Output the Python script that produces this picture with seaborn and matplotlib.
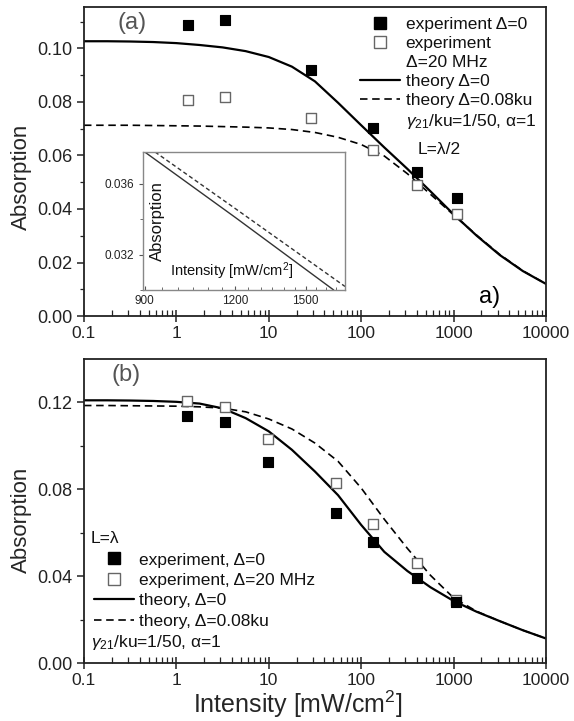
import numpy as np
import pandas as pd
import matplotlib
matplotlib.use("Agg")
import matplotlib.pyplot as plt
import seaborn as sns
from matplotlib.lines import Line2D
from matplotlib.ticker import FixedLocator, NullFormatter

# ---------------- data ----------------
# Panel (a) experiment
a_exp_I = [1.33, 3.36, 28.6, 134, 400, 1090]
a_exp0 = [0.1088, 0.1107, 0.0920, 0.0703, 0.0538, 0.0441]
a_exp20 = [0.0807, 0.0819, 0.0740, 0.0621, 0.0490, 0.0381]

# theory curves, read at quarter-decade intensities
theory_I = [0.1, 0.178, 0.316, 0.562, 1, 1.78, 3.16, 5.62, 10, 17.8, 31.6,
            56.2, 100, 178, 316, 562, 1000, 1780, 3160, 5620, 10000]
a_th0 = [0.1027, 0.1027, 0.1026, 0.1024, 0.1020, 0.1013, 0.1004, 0.0990,
         0.0968, 0.0932, 0.0877, 0.0797, 0.0713, 0.0630, 0.0550, 0.0466,
         0.0380, 0.0300, 0.0228, 0.0168, 0.0120]
a_th08 = [0.0713, 0.0713, 0.0713, 0.0712, 0.0711, 0.0710, 0.0708, 0.0706,
          0.0703, 0.0697, 0.0686, 0.0668, 0.0641, 0.0598, 0.0532, 0.0455,
          0.0378, 0.0302, 0.0230, 0.0169, 0.0120]

# Inset of panel (a)
in_I0 = [900, 1200, 1640]
in_th0 = [0.0378, 0.0341, 0.0300]
in_I08 = [930, 1200, 1700]
in_th08 = [0.0378, 0.0346, 0.0302]

# Panel (b) experiment
b_exp_I = [1.3, 3.4, 9.8, 53.5, 134, 400, 1060]
b_exp0 = [0.1136, 0.1108, 0.0924, 0.0690, 0.0556, 0.0391, 0.0280]
b_exp20 = [0.1209, 0.1177, 0.1030, 0.0828, 0.0639, 0.0460, 0.0290]
b_th0 = [0.1210, 0.1210, 0.1209, 0.1207, 0.1203, 0.1195, 0.1173, 0.1128,
         0.1067, 0.0982, 0.0882, 0.0773, 0.0636, 0.0512, 0.0424, 0.0349,
         0.0286, 0.0236, 0.0193, 0.0151, 0.0113]
b_th08 = [0.1186, 0.1186, 0.1185, 0.1184, 0.1183, 0.1180, 0.1174, 0.1157,
          0.1124, 0.1078, 0.1013, 0.0929, 0.0806, 0.0662, 0.0528, 0.0404,
          0.0300, 0.0238, 0.0193, 0.0151, 0.0113]

x_ticks = [0.1, 1, 10, 100, 1000, 10000]
x_ticklabels = ["0.1", "1", "10", "100", "1000", "10000"]

# ---------------- style ----------------
sns.set_theme(style="ticks")
plt.rcParams["font.family"] = ["Liberation Sans", "DejaVu Sans"]
plt.rcParams["mathtext.fontset"] = "custom"
plt.rcParams["mathtext.rm"] = "Liberation Sans"
plt.rcParams["mathtext.it"] = "Liberation Sans:italic"
plt.rcParams["axes.linewidth"] = 1.3
plt.rcParams["axes.edgecolor"] = "#222222"

DASH = (0, (4.5, 2.8))
OPEN_EC = "#666666"
LEG_FS = 12.5

fig = plt.figure(figsize=(5.74, 7.21), dpi=100)
axA = fig.add_axes([0.1463, 0.5617, 0.8049, 0.4286])
axB = fig.add_axes([0.1463, 0.0804, 0.8049, 0.4216])


def style_main(ax):
    ax.set_xscale("log")
    ax.set_xlim(0.1, 10000)
    ax.xaxis.set_major_locator(FixedLocator(x_ticks))
    ax.set_xticklabels(x_ticklabels)
    minors = [m * 10.0 ** e for e in range(-1, 4) for m in range(2, 10)]
    ax.xaxis.set_minor_locator(FixedLocator(minors))
    ax.xaxis.set_minor_formatter(NullFormatter())
    ax.tick_params(axis="x", which="major", direction="inout", length=8,
                   width=1.1, labelsize=12.5, pad=3, colors="#222222")
    ax.tick_params(axis="x", which="minor", direction="in", length=4,
                   width=0.9, colors="#222222")
    ax.tick_params(axis="y", which="major", direction="out", length=5,
                   width=1.1, labelsize=13, colors="#222222")
    ax.tick_params(axis="y", which="minor", direction="out", length=3,
                   width=0.9, colors="#222222")
    for s in ax.spines.values():
        s.set_visible(True)
        s.set_linewidth(1.3)


def draw(ax, exp_I, e0, e20, th0, th08):
    sns.lineplot(x=theory_I, y=th0, ax=ax, color="black", lw=1.6,
                 sort=False, estimator=None)
    sns.lineplot(x=theory_I, y=th08, ax=ax, color="black", lw=1.2,
                 linestyle=DASH, sort=False, estimator=None)
    sns.scatterplot(x=exp_I, y=e20, ax=ax, marker="s", s=55,
                    facecolor="white", edgecolor=OPEN_EC, linewidth=1.0,
                    zorder=5)
    sns.scatterplot(x=exp_I, y=e0, ax=ax, marker="s", s=55,
                    color="black", edgecolor="black", linewidth=0.8,
                    zorder=6)


# ---------------- panel (a) ----------------
draw(axA, a_exp_I, a_exp0, a_exp20, a_th0, a_th08)
style_main(axA)
axA.set_ylim(0, 0.1155)
axA.set_yticks([0, 0.02, 0.04, 0.06, 0.08, 0.10])
axA.set_yticklabels(["0.00", "0.02", "0.04", "0.06", "0.08", "0.10"])
axA.yaxis.set_minor_locator(FixedLocator([0.01, 0.03, 0.05, 0.07, 0.09, 0.11]))
axA.set_ylabel("Absorption", fontsize=16)
axA.yaxis.set_label_coords(-0.112, 0.45)
axA.set_xlabel("")
axA.text(0.072, 0.985, "(a)", transform=axA.transAxes, fontsize=17,
         color="#555555", va="top", ha="left")
axA.text(0.855, 0.025, "a)", transform=axA.transAxes, fontsize=17,
         color="black", va="bottom", ha="left")

ms = 8
hA = [
    Line2D([], [], ls="none", marker="s", ms=ms, mfc="black", mec="black"),
    Line2D([], [], ls="none", marker="s", ms=ms, mfc="white", mec=OPEN_EC),
    Line2D([], [], ls="none", marker="none"),
    Line2D([], [], color="black", lw=1.6),
    Line2D([], [], color="black", lw=1.2, ls=DASH),
    Line2D([], [], ls="none", marker="none"),
]
lA = ["experiment \u0394=0", "experiment", "\u0394=20 MHz",
      "theory \u0394=0", "theory \u0394=0.08ku",
      "$\\gamma_{21}$/ku=1/50, \u03b1=1"]
legA = axA.legend(hA, lA, loc="upper right", bbox_to_anchor=(1.005, 1.007),
                  frameon=False, fontsize=LEG_FS, handlelength=2.3,
                  handletextpad=0.3, labelspacing=0.22, borderaxespad=0.3)
for t in legA.get_texts():
    t.set_color("#111111")
axA.text(0.722, 0.54, "L=\u03bb/2", transform=axA.transAxes, fontsize=LEG_FS,
         color="#111111", va="center", ha="left")

# inset
axI = fig.add_axes([0.2491, 0.5978, 0.3519, 0.1914])
sns.lineplot(x=in_I0, y=in_th0, ax=axI, color="#333333", lw=1.0,
             sort=False, estimator=None)
sns.lineplot(x=in_I08, y=in_th08, ax=axI, color="#333333", lw=1.0,
             linestyle=(0, (3, 2)), sort=False, estimator=None)
axI.set_xscale("log")
axI.set_xlim(895, 1700)
axI.set_ylim(0.0300, 0.0378)
axI.xaxis.set_major_locator(FixedLocator([900, 1200, 1500]))
axI.set_xticklabels(["900", "1200", "1500"])
axI.xaxis.set_minor_locator(FixedLocator(list(range(950, 1700, 50))))
axI.xaxis.set_minor_formatter(NullFormatter())
axI.yaxis.set_major_locator(FixedLocator([0.032, 0.036]))
axI.set_yticklabels(["0.032", "0.036"])
axI.yaxis.set_minor_locator(FixedLocator([0.030, 0.034]))
axI.tick_params(axis="both", which="major", labelsize=8.5, length=3,
                width=0.8, colors="#555555", labelcolor="#222222")
axI.tick_params(axis="x", which="both", direction="in")
axI.tick_params(axis="x", which="minor", length=2, width=0.6, colors="#555555")
axI.tick_params(axis="y", which="minor", length=2, width=0.6, colors="#555555")
for s in axI.spines.values():
    s.set_visible(True)
    s.set_color("#888888")
    s.set_linewidth(1.0)
axI.set_xlabel("")
axI.set_ylabel("")
axI.text(0.035, 0.5, "Absorption", transform=axI.transAxes, rotation=90,
         fontsize=12, va="center", ha="left", color="#111111")
axI.text(0.134, 0.06, "Intensity [mW/cm$^{2}$]", transform=axI.transAxes,
         fontsize=10.5, va="bottom", ha="left", color="#111111")

# ---------------- panel (b) ----------------
draw(axB, b_exp_I, b_exp0, b_exp20, b_th0, b_th08)
style_main(axB)
axB.set_ylim(0, 0.14)
axB.set_yticks([0, 0.04, 0.08, 0.12])
axB.set_yticklabels(["0.00", "0.04", "0.08", "0.12"])
axB.yaxis.set_minor_locator(FixedLocator([0.02, 0.06, 0.10]))
axB.set_ylabel("Absorption", fontsize=16)
axB.yaxis.set_label_coords(-0.112, 0.47)
axB.set_xlabel("Intensity [mW/cm$^{2}$]", fontsize=18)
axB.xaxis.set_label_coords(0.462, -0.085)
axB.text(0.06, 0.985, "(b)", transform=axB.transAxes, fontsize=17,
         color="#555555", va="top", ha="left")

hB = [
    Line2D([], [], ls="none", marker="s", ms=ms, mfc="black", mec="black"),
    Line2D([], [], ls="none", marker="s", ms=ms, mfc="white", mec=OPEN_EC),
    Line2D([], [], color="black", lw=1.6),
    Line2D([], [], color="black", lw=1.2, ls=DASH),
]
lB = ["experiment, \u0394=0", "experiment, \u0394=20 MHz",
      "theory, \u0394=0", "theory, \u0394=0.08ku"]
legB = axB.legend(hB, lB, loc="upper left", bbox_to_anchor=(-0.005, 0.404),
                  frameon=False, fontsize=LEG_FS, handlelength=2.3,
                  handletextpad=0.3, labelspacing=0.3, borderaxespad=0.3)
for t in legB.get_texts():
    t.set_color("#111111")
axB.text(0.015, 0.41, "L=\u03bb", transform=axB.transAxes, fontsize=LEG_FS,
         va="center", ha="left", color="#111111")
axB.text(0.015, 0.066, "$\\gamma_{21}$/ku=1/50, \u03b1=1",
         transform=axB.transAxes, fontsize=LEG_FS, va="center", ha="left",
         color="#111111")

fig.savefig("out.png", dpi=100)
